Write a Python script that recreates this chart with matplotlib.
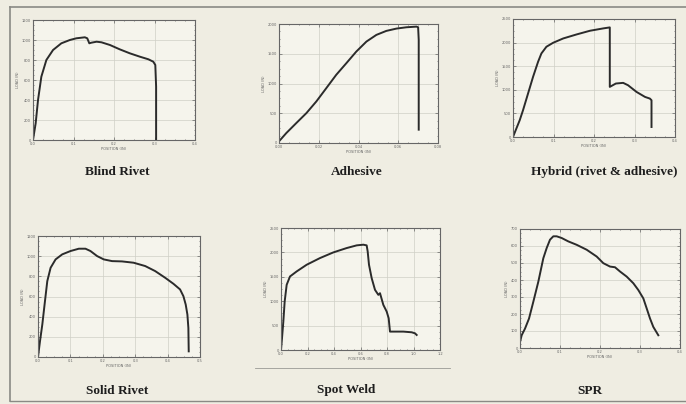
import numpy as np
import matplotlib.pyplot as plt
from matplotlib.ticker import AutoMinorLocator

# load (N) vs position (in)
blind_x = [0, 0.0066, 0.0124, 0.0206, 0.033, 0.0495, 0.070, 0.091, 0.107, 0.128, 0.134,
           0.139, 0.144, 0.157, 0.169, 0.190, 0.214, 0.239, 0.264, 0.285, 0.297, 0.302,
           0.304, 0.304]
blind_y = [0, 167, 400, 633, 800, 900, 967, 1000, 1017, 1027, 1017,
           967, 973, 983, 977, 950, 907, 867, 833, 807, 783, 750,
           533, 0]

adh_x = [0, 0.0037, 0.0087, 0.0138, 0.0188, 0.0238, 0.0288, 0.0339, 0.0389, 0.0440,
         0.0490, 0.0540, 0.0591, 0.0641, 0.0692, 0.0700, 0.0703, 0.0703]
adh_y = [28, 168, 335, 503, 699, 922, 1146, 1342, 1537, 1705,
         1817, 1884, 1923, 1945, 1956, 1945, 1733, 224]

hyb_x = [0, 0.0082, 0.0165, 0.0247, 0.0371, 0.0495, 0.0619, 0.0701, 0.0825, 0.099,
         0.124, 0.157, 0.190, 0.223, 0.239, 0.239, 0.254, 0.272, 0.284, 0.305,
         0.326, 0.338, 0.342, 0.342]
hyb_y = [0, 177, 354, 566, 920, 1274, 1593, 1770, 1912, 1996,
         2088, 2173, 2251, 2301, 2322, 1062, 1133, 1147, 1097, 955,
         849, 814, 779, 212]

solid_x = [0, 0.0061, 0.0133, 0.0215, 0.0287, 0.0389, 0.0543, 0.0748, 0.1004, 0.1260,
           0.1465, 0.1619, 0.1824, 0.2029, 0.2285, 0.2592, 0.2951, 0.3309, 0.3617,
           0.3924, 0.4180, 0.4385, 0.4488, 0.4559, 0.4611, 0.4641, 0.4652]
solid_y = [0, 156, 322, 554, 753, 885, 968, 1018, 1051, 1074,
           1074, 1051, 1001, 968, 951, 948, 935, 902, 852,
           786, 726, 670, 603, 520, 421, 288, 56]

spot_x = [0, 0.0075, 0.0176, 0.0277, 0.0428, 0.0679, 0.1182, 0.1937, 0.2943, 0.3950,
          0.4956, 0.5711, 0.6214, 0.6465, 0.6541, 0.6641, 0.6843, 0.7094, 0.7346,
          0.7472, 0.7723, 0.7975, 0.8126, 0.8226, 0.8604, 0.9233, 0.9862, 1.0113, 1.0239]
spot_y = [0, 240, 582, 993, 1336, 1507, 1610, 1747, 1884, 2000,
          2089, 2144, 2158, 2144, 2021, 1747, 1473, 1233, 1130,
          1164, 925, 788, 651, 377, 377, 377, 363, 342, 308]

spr_x = [0, 0.0042, 0.0125, 0.0225, 0.0333, 0.0458, 0.0583, 0.0667, 0.075, 0.0833,
         0.0917, 0.1042, 0.1208, 0.1417, 0.1667, 0.1917, 0.2083, 0.225, 0.2375, 0.25,
         0.2667, 0.2833, 0.2958, 0.3083, 0.3167, 0.325, 0.3333, 0.3417, 0.3458]
spr_y = [35, 75, 114, 173, 272, 390, 528, 588, 637, 657,
         657, 647, 627, 607, 578, 538, 499, 479, 475, 450,
         420, 381, 341, 292, 233, 174, 124, 91, 75]

titles = ['Blind Rivet', 'Adhesive', 'Hybrid (rivet & adhesive)',
          'Solid Rivet', 'Spot Weld', 'SPR']

W, H = 686, 404
bg = '#efede2'

fig = plt.figure(figsize=(W / 100, H / 100), dpi=100, facecolor=bg)


def px_axes(l, r, t, b):
    """axes from pixel box (left, right, top, bottom)"""
    ax = fig.add_axes([l / W, 1 - b / H, (r - l) / W, (b - t) / H])
    ax.set_facecolor('#f5f4ec')
    return ax


def panel(ax, x, y, xmax, xstep, ymax, ystep):
    ax.plot(x, y, color='#2b2b2b', lw=1.4, solid_joinstyle='round')
    ax.set_xlim(0, xmax)
    ax.set_ylim(0, ymax)
    ax.set_xticks(np.arange(0, xmax + xstep / 2, xstep))
    ax.set_yticks(np.arange(0, ymax + ystep / 2, ystep))
    ax.xaxis.set_minor_locator(AutoMinorLocator(4))
    ax.yaxis.set_minor_locator(AutoMinorLocator(4))
    ax.grid(True, color='#cfcfc6', lw=0.5)
    ax.tick_params(which='both', direction='in', labelsize=2.6, colors='#666666',
                   length=2, width=0.5, pad=1.5, top=True, right=True)
    ax.tick_params(which='minor', length=1)
    for s in ax.spines.values():
        s.set_color('#666666')
        s.set_linewidth(0.8)
    ax.set_xlabel('POSITION (IN)', fontsize=2.6, color='#666666', labelpad=1)
    ax.set_ylabel('LOAD (N)', fontsize=2.6, color='#666666', labelpad=1)


ax = px_axes(33, 195, 20, 140)
panel(ax, blind_x, blind_y, 0.4, 0.1, 1200, 200)
ax = px_axes(279, 438, 24, 143)
panel(ax, adh_x, adh_y, 0.08, 0.02, 2000, 500)
ax = px_axes(513, 675, 19, 137)
panel(ax, hyb_x, hyb_y, 0.4, 0.1, 2500, 500)
ax = px_axes(38, 200, 236, 357)
panel(ax, solid_x, solid_y, 0.5, 0.1, 1200, 200)
ax = px_axes(281, 440, 228, 350)
panel(ax, spot_x, spot_y, 1.2, 0.2, 2500, 500)
ax = px_axes(520, 680, 229, 348)
panel(ax, spr_x, spr_y, 0.4, 0.1, 700, 100)

# captions under each chart
title_pos = [(117, 172), (357, 172), (604, 172), (117, 391), (346, 390), (590, 391)]
for t, (cx, cy) in zip(titles, title_pos):
    fig.text(cx / W, 1 - cy / H, t, ha='center', va='center', fontsize=9.5,
             fontweight='bold', family='Liberation Serif', color='#1e1e1e')

# page frame and rule of the scan
fig.add_artist(plt.Line2D([10 / W, 1], [1 - 7 / H] * 2, color='#8a8a85', lw=1.2))
fig.add_artist(plt.Line2D([10 / W] * 2, [1 - 7 / H, 1 - 401 / H], color='#8a8a85', lw=1.2))
fig.add_artist(plt.Line2D([10 / W, 1], [1 - 401 / H] * 2, color='#8a8a85', lw=1.0))
fig.add_artist(plt.Line2D([255 / W, 450 / W], [1 - 368 / H] * 2, color='#9a9a95', lw=0.6))

fig.savefig('out.png', dpi=100, facecolor=bg)
